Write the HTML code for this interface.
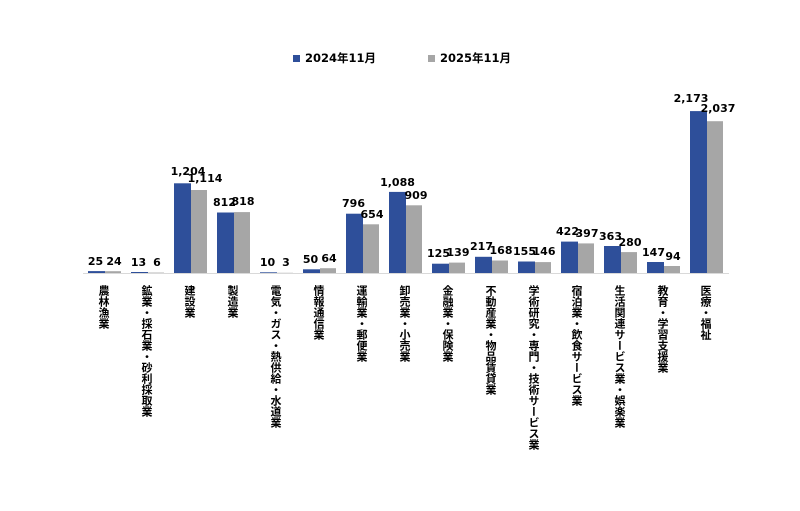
<!DOCTYPE html><html><head><meta charset="utf-8"><style>
body{margin:0;background:#fff;width:800px;height:511px;overflow:hidden;position:relative;font-family:"Liberation Sans","Noto Sans CJK JP",sans-serif}
.l{position:absolute;top:285px;width:14px;writing-mode:vertical-rl;font-size:11px;font-weight:bold;line-height:14px;color:#000;letter-spacing:0}
</style></head><body>
<svg width="800" height="511" style="position:absolute;left:0;top:0" font-family="DejaVu Sans, Noto Sans CJK JP, sans-serif" font-weight="bold">
<rect x="293" y="55" width="7" height="7" fill="#2E4F9A"/><text x="305" y="62" font-size="11.5">2024年11月</text>
<rect x="428" y="55" width="7" height="7" fill="#A6A6A6"/><text x="440" y="62" font-size="11.5">2025年11月</text>
<line x1="83" y1="273.5" x2="729" y2="273.5" stroke="#d9d9d9"/>
<g fill="#2E4F9A">
<rect x="88" y="271.1" width="17" height="1.9"/>
<rect x="131" y="272" width="17" height="1"/>
<rect x="174" y="183.3" width="17" height="89.7"/>
<rect x="217" y="212.5" width="17" height="60.5"/>
<rect x="260" y="272.3" width="17" height="0.7"/>
<rect x="303" y="269.3" width="17" height="3.7"/>
<rect x="346" y="213.7" width="17" height="59.3"/>
<rect x="389" y="191.9" width="17" height="81.1"/>
<rect x="432" y="263.7" width="17" height="9.3"/>
<rect x="475" y="256.8" width="17" height="16.2"/>
<rect x="518" y="261.5" width="17" height="11.5"/>
<rect x="561" y="241.6" width="17" height="31.4"/>
<rect x="604" y="246" width="17" height="27"/>
<rect x="647" y="262" width="17" height="11"/>
<rect x="690" y="111.1" width="17" height="161.9"/>
</g>
<g fill="#A6A6A6">
<rect x="105" y="271.2" width="16" height="1.8"/>
<rect x="148" y="272.6" width="16" height="0.4"/>
<rect x="191" y="190" width="16" height="83"/>
<rect x="234" y="212.1" width="16" height="60.9"/>
<rect x="277" y="272.8" width="16" height="0.2"/>
<rect x="320" y="268.2" width="16" height="4.8"/>
<rect x="363" y="224.3" width="16" height="48.7"/>
<rect x="406" y="205.3" width="16" height="67.7"/>
<rect x="449" y="262.6" width="16" height="10.4"/>
<rect x="492" y="260.5" width="16" height="12.5"/>
<rect x="535" y="262.1" width="16" height="10.9"/>
<rect x="578" y="243.4" width="16" height="29.6"/>
<rect x="621" y="252.1" width="16" height="20.9"/>
<rect x="664" y="266" width="16" height="7"/>
<rect x="707" y="121.2" width="16" height="151.8"/>
</g>
<g font-size="11" text-anchor="middle" fill="#000">
<text x="95.5" y="265">25</text><text x="114" y="265">24</text>
<text x="138.5" y="266">13</text><text x="157" y="266">6</text>
<text x="188" y="175">1,204</text><text x="205" y="182">1,114</text>
<text x="224.5" y="206">812</text><text x="243" y="205">818</text>
<text x="267.5" y="266">10</text><text x="286" y="266">3</text>
<text x="310.5" y="263">50</text><text x="329" y="262">64</text>
<text x="353.5" y="207">796</text><text x="372" y="218">654</text>
<text x="397.5" y="186">1,088</text><text x="416" y="199">909</text>
<text x="438.5" y="257">125</text><text x="458" y="256">139</text>
<text x="481.5" y="250">217</text><text x="501" y="254">168</text>
<text x="524.5" y="255">155</text><text x="544" y="255">146</text>
<text x="567.5" y="235">422</text><text x="587" y="237">397</text>
<text x="610.5" y="240">363</text><text x="630" y="246">280</text>
<text x="653.5" y="256">147</text><text x="673" y="260">94</text>
<text x="691" y="102">2,173</text><text x="718" y="112">2,037</text>
</g>
</svg>
<div class="l" style="left:96px">農林漁業</div>
<div class="l" style="left:139px">鉱業・採石業・砂利採取業</div>
<div class="l" style="left:182px">建設業</div>
<div class="l" style="left:225px">製造業</div>
<div class="l" style="left:268px">電気・ガス・熱供給・水道業</div>
<div class="l" style="left:311px">情報通信業</div>
<div class="l" style="left:354px">運輸業・郵便業</div>
<div class="l" style="left:397px">卸売業・小売業</div>
<div class="l" style="left:440px">金融業・保険業</div>
<div class="l" style="left:483px">不動産業・物品賃貸業</div>
<div class="l" style="left:526px">学術研究・専門・技術サービス業</div>
<div class="l" style="left:569px">宿泊業・飲食サービス業</div>
<div class="l" style="left:612px">生活関連サービス業・娯楽業</div>
<div class="l" style="left:655px">教育・学習支援業</div>
<div class="l" style="left:698px">医療・福祉</div>
</body></html>
